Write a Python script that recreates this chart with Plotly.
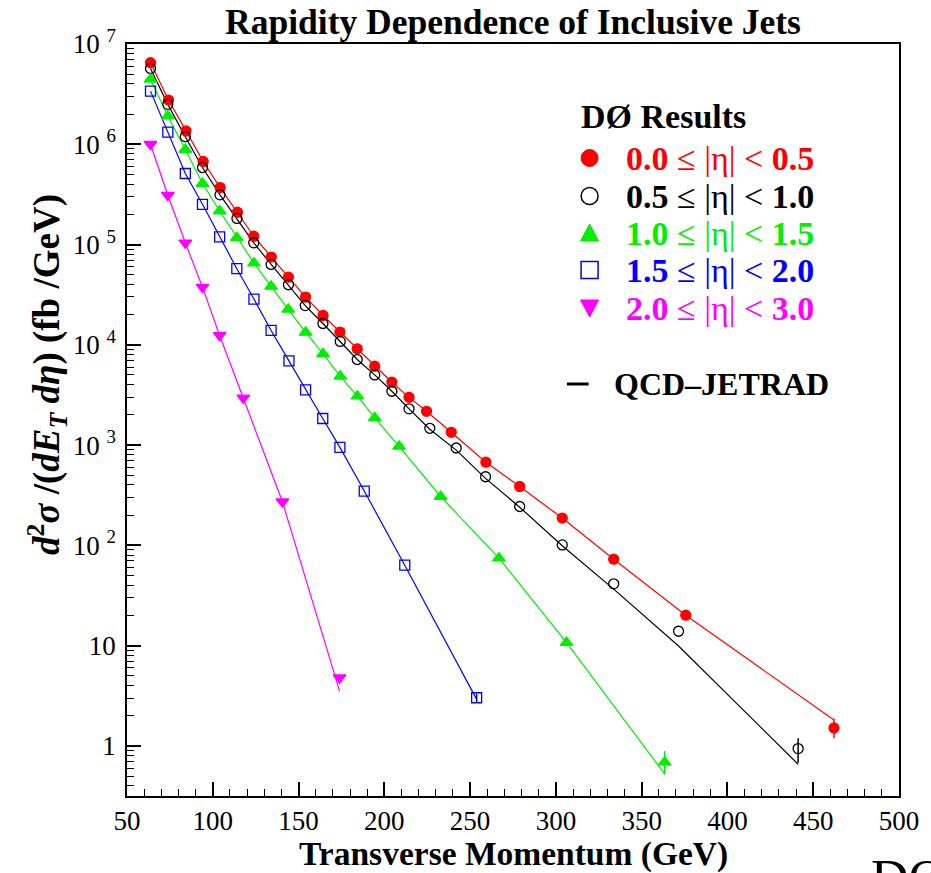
import plotly.graph_objects as go

# ---------------- data ----------------
et_r = [63.7, 74.2, 84.4, 94.4, 104.3, 114.4, 123.9, 134.1, 144.1, 154.1, 164.3, 174.1,
        184.2, 194.4, 204.4, 214.4, 224.6, 239.0, 259.2, 278.9, 303.7, 333.7, 375.7, 462.1]
xs_r = [6.50e6, 2.76e6, 1.36e6, 6.73e5, 3.70e5, 2.10e5, 1.21e5, 7.50e4, 4.73e4, 2.99e4, 1.96e4, 1.34e4,
        9120, 6110, 4230, 2990, 2170, 1340, 675, 386, 187, 72.8, 20.1, 1.51]
th_r = [6.50e6, 2.76e6, 1.36e6, 6.73e5, 3.70e5, 2.10e5, 1.21e5, 7.50e4, 4.73e4, 2.99e4, 1.96e4, 1.34e4,
        9120, 6110, 4230, 2990, 2170, 1340, 675, 386, 187, 72.8, 20.1, 1.81]
ep_r = [0]*23 + [0.35]
em_r = [0]*23 + [0.32]

et_k = [63.7, 73.8, 84.0, 94.0, 104.2, 114.1, 123.9, 134.0, 144.1, 153.9, 164.2, 174.3,
        184.2, 194.4, 204.4, 214.4, 226.5, 241.9, 259.0, 278.9, 303.7, 333.7, 371.5, 441.2]
xs_k = [5.71e6, 2.50e6, 1.19e6, 5.86e5, 3.13e5, 1.82e5, 1.04e5, 6.34e4, 3.97e4, 2.46e4, 1.63e4, 1.08e4,
        7130, 5010, 3440, 2300, 1470, 935, 483, 244, 101, 41.3, 13.9, 0.94]
th_k = [5.71e6, 2.50e6, 1.19e6, 5.86e5, 3.13e5, 1.82e5, 1.04e5, 6.34e4, 3.97e4, 2.46e4, 1.63e4, 1.08e4,
        7130, 5010, 3440, 2300, 1440, 890, 465, 240, 99, 36.6, 9.9, 0.656]
ep_k = [0]*23 + [0.25]
em_k = [0]*23 + [0.26]

et_g = [63.7, 73.8, 84.0, 94.0, 104.0, 114.0, 124.0, 134.0, 144.0, 154.1, 164.3, 174.3,
        184.3, 194.4, 208.6, 232.8, 266.8, 306.2, 363.4]
xs_g = [4.44e6, 1.91e6, 8.87e5, 4.06e5, 2.16e5, 1.17e5, 6.53e4, 3.82e4, 2.26e4, 1.33e4, 8130, 4850,
        3070, 1870, 971, 307, 74.5, 10.7, 0.687]
th_g = [4.44e6, 1.91e6, 8.87e5, 4.06e5, 2.16e5, 1.17e5, 6.53e4, 3.82e4, 2.26e4, 1.33e4, 8130, 4850,
        3070, 1870, 971, 307, 74.5, 10.7, 0.525]
ep_g = [0]*18 + [0.20]
em_g = [0]*18 + [0.17]

et_b = [63.7, 73.8, 84.0, 94.0, 104.0, 114.0, 124.0, 134.0, 144.4, 154.1, 164.1, 174.1, 188.3, 211.9, 253.8]
xs_b = [3.39e6, 1.32e6, 5.11e5, 2.52e5, 1.19e5, 5.74e4, 2.86e4, 1.39e4, 6920, 3550, 1840, 948, 348, 63.4, 3.02]
th_b = [3.39e6, 1.32e6, 5.11e5, 2.52e5, 1.19e5, 5.74e4, 2.86e4, 1.39e4, 6920, 3550, 1840, 948, 348, 63.4, 2.91]
ep_b = [0]*14 + [0.30]
em_b = [0]*14 + [0.30]

et_m = [63.7, 73.8, 84.0, 94.0, 104.0, 117.8, 140.6, 173.9]
xs_m = [1.00e6, 3.10e5, 1.04e5, 3.76e4, 1.24e4, 2950, 272, 4.78]
th_m = [1.00e6, 3.10e5, 1.04e5, 3.76e4, 1.24e4, 2950, 272, 3.52]

y_tickvals = [1, 10, 100, 1e3, 1e4, 1e5, 1e6, 1e7]
y_ticktext = ["1", "10", "10 <sup>2</sup>", "10 <sup>3</sup>", "10 <sup>4</sup>",
              "10 <sup>5</sup>", "10 <sup>6</sup>", "10 <sup>7</sup>"]
x_tickvals = [50, 100, 150, 200, 250, 300, 350, 400, 450, 500]

legend_labels = ["<b>0.0</b> ≤ |η| &lt; <b>0.5</b>", "<b>0.5</b> ≤ |η| &lt; <b>1.0</b>",
                 "<b>1.0</b> ≤ |η| &lt; <b>1.5</b>", "<b>1.5</b> ≤ |η| &lt; <b>2.0</b>",
                 "<b>2.0</b> ≤ |η| &lt; <b>3.0</b>"]

RED, BLK, GRN, BLU, MAG = "#ff0000", "#000000", "#00ee00", "#0000ff", "#ff00ff"
FONT = "Liberation Serif"

fig = go.Figure()

series = [
    (et_r, xs_r, th_r, ep_r, em_r, RED, "circle"),
    (et_k, xs_k, th_k, ep_k, em_k, BLK, "circle-open"),
    (et_g, xs_g, th_g, ep_g, em_g, GRN, "triangle-up"),
    (et_b, xs_b, th_b, ep_b, em_b, BLU, "square-open"),
    (et_m, xs_m, th_m, [0]*len(et_m), [0]*len(et_m), MAG, "triangle-down"),
]
for et, xs, th, ep, em, col, sym in series:
    fig.add_trace(go.Scatter(x=et, y=th, mode="lines", line=dict(color=col, width=1.2),
                             showlegend=False, hoverinfo="skip"))
for et, xs, th, ep, em, col, sym in series:
    fig.add_trace(go.Scatter(
        x=et, y=xs, mode="markers",
        marker=dict(symbol=sym, size=10 if "triangle" not in sym else 11, color=col,
                    line=dict(color=col, width=1.3)),
        error_y=dict(type="data", array=ep, arrayminus=em, symmetric=False,
                     color=col, thickness=1.5, width=0),
        showlegend=False))

# ---------------- layout ----------------
W, H = 931, 873
L, R, T, B = 127, 23, 44, 77
PW, PH = W - L - R, H - T - B


def px(xp):
    return (xp - L) / PW


def py(yp):
    return 1 - (yp - T) / PH


minor_y = [m * 10 ** k for k in range(-1, 7) for m in range(2, 10)]
minor_y = [v for v in minor_y if 10 ** -0.5 <= v <= 1e7]

fig.update_layout(
    width=W, height=H,
    margin=dict(l=L, r=R, t=T, b=B),
    paper_bgcolor="white", plot_bgcolor="white",
    showlegend=False,
    font=dict(family=FONT, color="black"),
    title=dict(text="<b>Rapidity Dependence of Inclusive Jets</b>",
               font=dict(family=FONT, size=35.5, color="black"),
               x=0.5, xref="paper", xanchor="center",
               y=1 - 22 / H, yref="container", yanchor="middle"),
    xaxis=dict(range=[50, 500], tickvals=x_tickvals, ticks="inside", ticklen=14,
               tickwidth=1.5, tickcolor="black",
               minor=dict(dtick=10, tick0=50, ticks="inside", ticklen=7, tickwidth=1.2,
                          tickcolor="black", showgrid=False),
               showline=True, linecolor="black", linewidth=1.5, mirror=True,
               showgrid=False, zeroline=False, ticklabelstandoff=0,
               tickfont=dict(family=FONT, size=27, color="black")),
    yaxis=dict(type="log", range=[-0.5, 7], tickvals=y_tickvals, ticktext=y_ticktext,
               ticks="inside", ticklen=14, tickwidth=1.5, tickcolor="black",
               minor=dict(tickvals=minor_y, ticks="inside", ticklen=7, tickwidth=1.2,
                          tickcolor="black", showgrid=False),
               showline=True, linecolor="black", linewidth=1.5, mirror=True,
               showgrid=False, zeroline=False, ticklabelstandoff=4,
               tickfont=dict(family=FONT, size=27, color="black")),
)

ann = []
# axis titles
ann.append(dict(text="<b>Transverse Momentum (GeV)</b>", x=0.5, y=py(854),
                xref="paper", yref="paper", xanchor="center", yanchor="middle",
                borderpad=0, showarrow=False, font=dict(family=FONT, size=33.5, color="black")))
ann.append(dict(text="<b><i>d</i><sup>2</sup><i>σ</i> /(<i>dE<sub>T</sub> dη</i>) (fb /GeV)</b>",
                x=px(46), y=py(374), xref="paper", yref="paper",
                xanchor="center", yanchor="middle", textangle=-90,
                showarrow=False, font=dict(family=FONT, size=37, color="black")))
# legend
ann.append(dict(text="<b>DØ Results</b>", x=px(584), y=py(117), xref="paper", yref="paper",
                xanchor="left", yanchor="middle", showarrow=False,
                font=dict(family=FONT, size=34, color="black")))
leg_y = [158, 196, 233, 270, 308]
leg_cols = [RED, BLK, GRN, BLU, MAG]
for lab, yy, col in zip(legend_labels, leg_y, leg_cols):
    ann.append(dict(text=lab, x=px(630), y=py(yy), xref="paper", yref="paper",
                    xanchor="left", yanchor="middle", showarrow=False,
                    font=dict(family=FONT, size=34, color=col)))
ann.append(dict(text="<b>QCD–JETRAD</b>", x=px(618), y=py(384), xref="paper", yref="paper",
                xanchor="left", yanchor="middle", showarrow=False,
                font=dict(family=FONT, size=32, color="black")))
ann.append(dict(text="DØ", x=px(878), y=py(848), xref="paper", yref="paper",
                xanchor="left", yanchor="top", showarrow=False,
                font=dict(family=FONT, size=52, color="black")))
fig.update_layout(annotations=ann)

shapes = []
mx = px(595)
common = dict(xref="paper", yref="paper", xsizemode="pixel", ysizemode="pixel", xanchor=mx)
shapes.append(dict(type="circle", yanchor=py(158), x0=-8.5, x1=8.5, y0=-8.5, y1=8.5,
                   fillcolor=RED, line=dict(color=RED, width=1), **common))
shapes.append(dict(type="circle", yanchor=py(196), x0=-8.5, x1=8.5, y0=-8.5, y1=8.5,
                   fillcolor="rgba(0,0,0,0)", line=dict(color=BLK, width=1.5), **common))
shapes.append(dict(type="path", yanchor=py(233), path="M-9,-8 L9,-8 L0,9 Z",
                   fillcolor=GRN, line=dict(color=GRN, width=1), **common))
shapes.append(dict(type="rect", yanchor=py(270), x0=-8.5, x1=8.5, y0=-8.5, y1=8.5,
                   fillcolor="rgba(0,0,0,0)", line=dict(color=BLU, width=1.5), **common))
shapes.append(dict(type="path", yanchor=py(308), path="M-9,8 L9,8 L0,-9 Z",
                   fillcolor=MAG, line=dict(color=MAG, width=1), **common))
shapes.append(dict(type="line", xref="paper", yref="paper", x0=px(572), x1=px(594),
                   y0=py(384), y1=py(384), line=dict(color="black", width=3)))
fig.update_layout(shapes=shapes)

fig.write_html("out.html")
